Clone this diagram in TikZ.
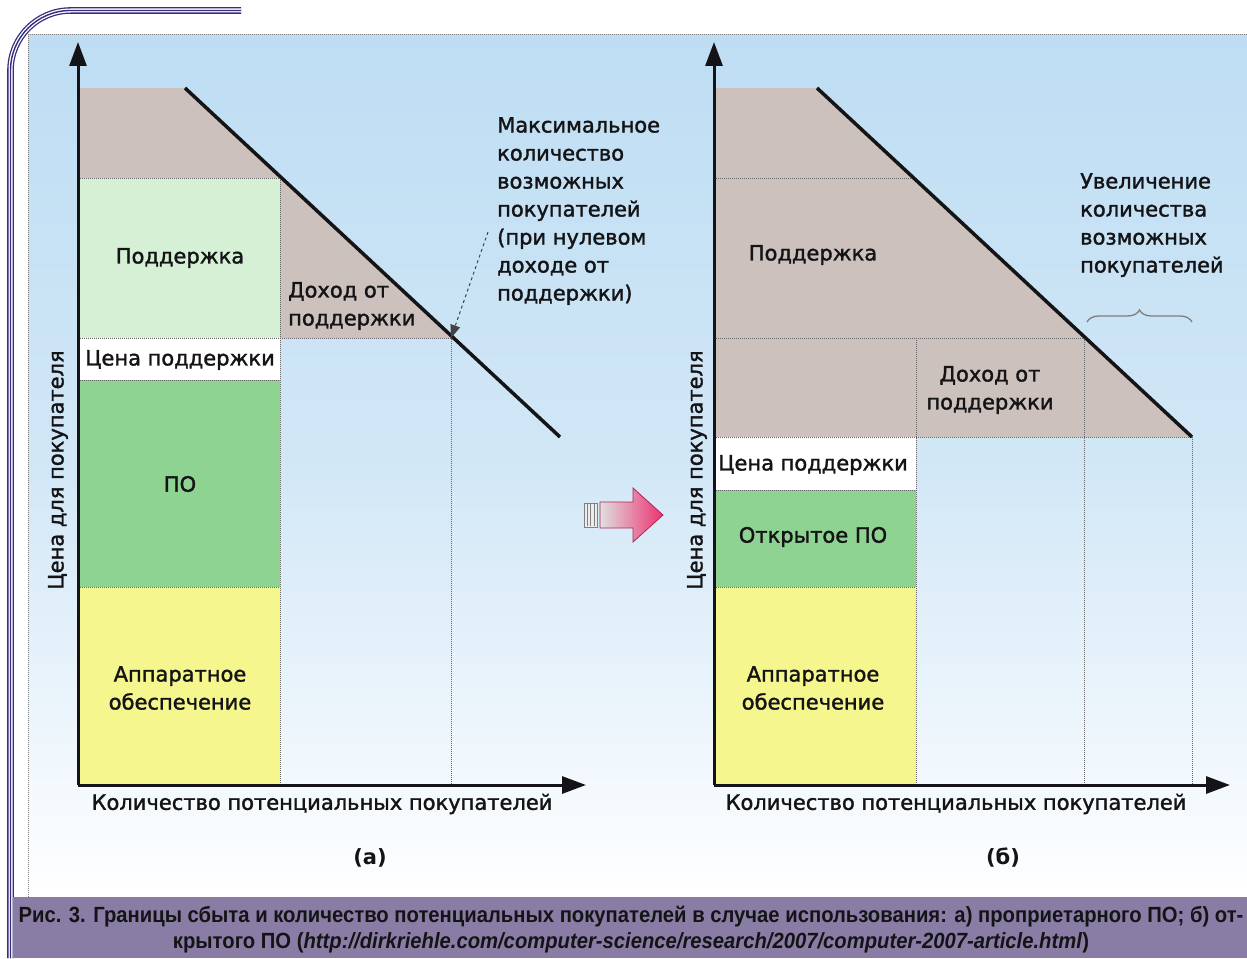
\documentclass[tikz,border=0pt]{standalone}
\usepackage{fontspec}
\setmainfont{DejaVu Sans}
\newfontfamily\chartfont[FakeBold=1.6]{DejaVu Sans}
\newfontfamily\capfont[FakeStretch=0.92]{Liberation Sans}
\usetikzlibrary{arrows.meta,positioning,decorations.pathreplacing,calc}
\definecolor{navy}{RGB}{55,45,125}
\definecolor{sky}{RGB}{190,221,243}
\definecolor{revenue}{RGB}{205,193,190}
\definecolor{palegreen}{RGB}{214,240,214}
\definecolor{softgreen}{RGB}{142,211,146}
\definecolor{lemon}{RGB}{246,246,142}
\definecolor{lilac}{RGB}{137,125,166}
\definecolor{ink}{RGB}{20,20,22}
\definecolor{rose}{RGB}{236,50,112}
\tikzset{
  axis/.style={line width=3pt,draw=ink,-{Triangle[length=24pt,width=17pt]}},
  demand/.style={line width=3.5pt,draw=ink},
  zone/.style={fill=#1,draw=none},
  zone/.default=revenue,
  grid line/.style={draw=ink!65,densely dotted,line width=1pt},
  lbl/.style={font=\chartfont\fontsize{21}{28}\selectfont,text=ink,align=center,inner sep=0pt},
  note/.style={lbl,align=left},
  tag/.style={lbl,font=\bfseries\fontsize{21}{28}\selectfont},
  triple/.style={rounded corners=60pt,line width=#1},
}

\begin{document}
\begin{tikzpicture}[x=1pt,y=-1pt]
  \useasboundingbox (0,0) rectangle (1247,958);
  % panel and frame
  \shade[top color=sky,bottom color=white,middle color=sky!70] (28,35) rectangle (1247,897);
  \draw[ink!55,densely dotted,line width=1pt] (28,897) -- (28,35) -- (1247,35);
  \foreach \w/\c in {6.6pt/navy,4pt/white,1.4pt/navy}
    \draw[triple=\w,draw=\c] (241,10.5) -- (10.5,10.5) -- (10.5,958);
  \fill[lilac] (13,897) rectangle (1247,958);
  \node[font=\capfont\bfseries\fontsize{22}{26}\selectfont,text=ink,align=center,inner sep=0pt] (caption) at (631,930)
    {Рис. 3. Границы сбыта и количество потенциальных покупателей в случае использования: а) проприетарного ПО; б) от-\\
     крытого ПО (\textit{http://dirkriehle.com/computer-science/research/2007/computer-2007-article.html})};

  % --- chart (a)
  \coordinate (Oa) at (78,785);
  \coordinate (Ya) at (78,42);
  \coordinate (Xa) at (586,785);
  \coordinate (Da) at (185,88);
  \coordinate (Ea) at (560,437);
  \coordinate (Ka) at (451,338);
  \fill[zone] (78,88) -- (Da) -- (Ka) -- (280,338) -- (280,178) -- (78,178) -- cycle;
  \fill[zone=palegreen] (78,178) rectangle (280,338);
  \fill[zone=white] (78,338) rectangle (280,380);
  \fill[zone=softgreen] (78,380) rectangle (280,587);
  \fill[zone=lemon] (78,587) rectangle (280,785);
  \draw[grid line] (78,178) -- (280,178) (280,178) -- (280,785);
  \draw[grid line] (78,338) -- (Ka) -- (451,785);
  \draw[grid line] (78,380) -- (280,380) (78,587) -- (280,587);
  \draw[demand] (Da) -- (Ea);
  \draw[axis] (Oa) -- (Ya);
  \draw[axis] (Oa) -- (Xa);

  \node[lbl] (sup_a) at (180,258) {Поддержка};
  \node[lbl,align=left,anchor=west] (inc_a) at (288,306) {Доход от\\поддержки};
  \node[lbl] (price_a) at (180,360) {Цена поддержки};
  \node[lbl] (sw_a) at (180,484) {ПО};
  \node[lbl] (hw_a) at (180,688) {Аппаратное\\обеспечение};
  \node[lbl,rotate=90] (ylab_a) at (58,470) {Цена для покупателя};
  \node[lbl] (xlab_a) at (322,804) {Количество потенциальных покупателей};
  \node[tag] (tag_a) at (370,858) {(а)};
  \node[note,anchor=north west] (max_a) at (497,117) {Максимальное\\количество\\возможных\\покупателей\\(при нулевом\\доходе от\\поддержки)};
  \coordinate (Na) at (488,232);
  \draw[ink!80,dashed,line width=1pt,-{Triangle[length=13pt,width=10pt]}] (Na) -- (Ka);

  % middle arrow
  \shade[left color=white!75!gray,right color=rose,draw=rose!75!black,line width=0.8pt]
    (600,502) -- (633,502) -- (633,488) -- (663,515) -- (633,542) -- (633,528) -- (600,528) -- cycle;
  \fill[white!85!gray,draw=gray,line width=0.8pt] (584,503) rectangle (597,527);
  \foreach \x in {587,590.5,594} \draw[gray,line width=1pt] (\x,504) -- (\x,526);

  % --- chart (b)
  \coordinate (Ob) at (714,785);
  \coordinate (Yb) at (714,42);
  \coordinate (Xb) at (1230,785);
  \coordinate (Db) at (817,88);
  \coordinate (Eb) at (1192,437);
  \fill[zone] (714,88) -- (Db) -- (Eb) -- (714,437) -- cycle;
  \fill[zone=white] (714,437) rectangle (916,490);
  \fill[zone=softgreen] (714,490) rectangle (916,587);
  \fill[zone=lemon] (714,587) rectangle (916,785);
  \draw[grid line] (714,178) -- (914,178);
  \draw[grid line] (714,338) -- (1084,338);
  \draw[grid line] (714,437) -- (Eb) -- (1192,785);
  \draw[grid line] (916,338) -- (916,785) (1084,338) -- (1084,785);
  \draw[grid line] (714,490) -- (916,490) (714,587) -- (916,587);
  \draw[demand] (Db) -- (Eb);
  \draw[axis] (Ob) -- (Yb);
  \draw[axis] (Ob) -- (Xb);

  \node[lbl] (sup_b) at (813,255) {Поддержка};
  \node[lbl] (inc_b) at (990,390) {Доход от\\поддержки};
  \node[lbl] (price_b) at (813,465) {Цена поддержки};
  \node[lbl] (sw_b) at (813,537) {Открытое ПО};
  \node[lbl] (hw_b) at (813,688) {Аппаратное\\обеспечение};
  \node[lbl,rotate=90] (ylab_b) at (697,470) {Цена для покупателя};
  \node[lbl] (xlab_b) at (956,804) {Количество потенциальных покупателей};
  \node[tag] (tag_b) at (1003,858) {(б)};
  \node[note,anchor=north west] (grow_b) at (1080,173) {Увеличение\\количества\\возможных\\покупателей};
  \coordinate (Ba) at (1087,322);
  \coordinate (Bb) at (1192,322);
  \draw[ink!55,line width=1.3pt,decorate,decoration={brace,amplitude=12pt}] (Ba) -- (Bb);
\end{tikzpicture}
\end{document}
